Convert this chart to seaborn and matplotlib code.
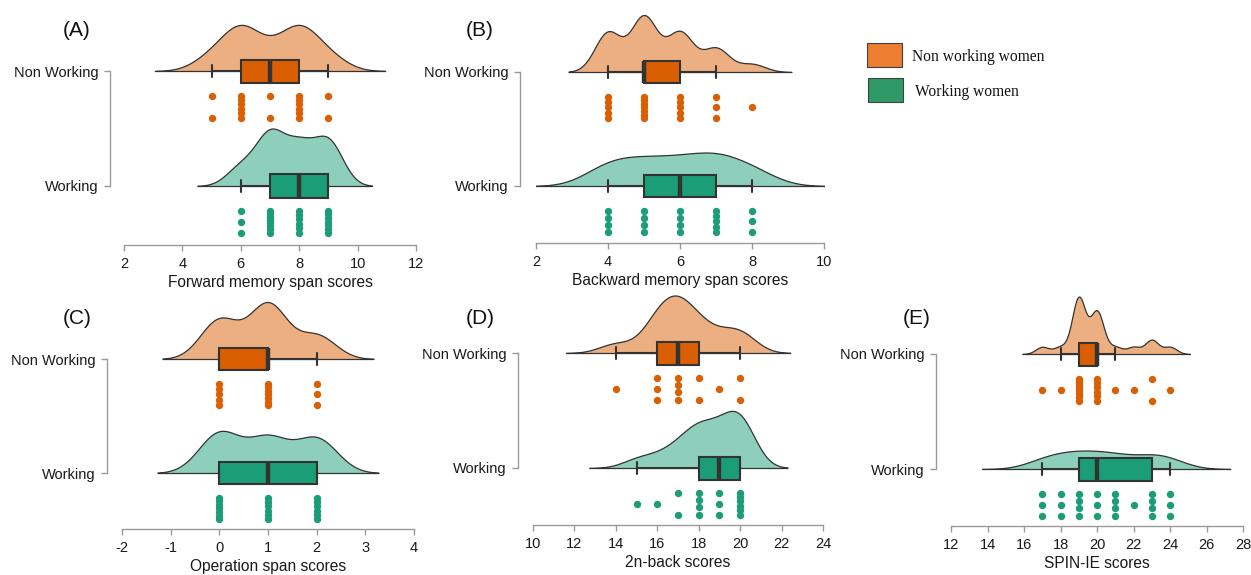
import numpy as np
import pandas as pd
import matplotlib
matplotlib.use("Agg")
import matplotlib.pyplot as plt
import seaborn as sns
from matplotlib.patches import Rectangle

# ---------------- data (value -> number of participants) ----------------
groups = ["Non Working", "Working"]

fwd_nw_values = [5, 6, 7, 8, 9]
fwd_nw_counts = [2, 6, 2, 6, 2]
fwd_w_values = [6, 7, 8, 9]
fwd_w_counts = [3, 8, 6, 7]

bwd_nw_values = [4, 5, 6, 7, 8]
bwd_nw_counts = [5, 7, 5, 3, 1]
bwd_w_values = [4, 5, 6, 7, 8]
bwd_w_counts = [4, 4, 4, 5, 3]

ops_nw_values = [0, 1, 2]
ops_nw_counts = [5, 7, 3]
ops_w_values = [0, 1, 2]
ops_w_counts = [7, 6, 6]

nback_nw_values = [14, 16, 17, 18, 19, 20]
nback_nw_counts = [1, 3, 4, 2, 1, 2]
nback_w_values = [15, 16, 17, 18, 19, 20]
nback_w_counts = [1, 1, 2, 4, 3, 6]

spin_nw_values = [17, 18, 19, 20, 21, 22, 23, 24]
spin_nw_counts = [1, 1, 8, 6, 1, 1, 2, 1]
spin_w_values = [17, 18, 19, 20, 21, 22, 23, 24]
spin_w_counts = [3, 3, 4, 3, 4, 1, 4, 3]

panel_letters = ["(A)", "(B)", "(C)", "(D)", "(E)"]
x_labels = ["Forward memory span scores", "Backward memory span scores",
            "Operation span scores", "2n-back scores", "SPIN-IE scores"]
x_ticks_A = [2, 4, 6, 8, 10, 12]
x_ticks_B = [2, 4, 6, 8, 10]
x_ticks_C = [-2, -1, 0, 1, 2, 3, 4]
x_ticks_D = [10, 12, 14, 16, 18, 20, 22, 24]
x_ticks_E = [12, 14, 16, 18, 20, 22, 24, 26, 28]
legend_labels = ["Non working women", "Working women"]

# ---------------- style ----------------
C_NW, C_W = "#D95F02", "#1B9E77"
C_NW_LIGHT, C_W_LIGHT = "#ECAF81", "#8DCFBB"
LINE = "#333333"
SPINE = "#9A9A9A"
LEG_NW, LEG_W = "#ED7D31", "#2F9968"

sns.set_style("ticks")
plt.rcParams["font.family"] = ["Liberation Sans", "DejaVu Sans"]

W_PX, H_PX = 1251, 575
fig = plt.figure(figsize=(W_PX / 100, H_PX / 100), dpi=100)

# layout in pixels: x-left, x-right, y(NonWorking), y(Working), y(x-spine), x(y-spine), letter position
layout = [
    dict(L=124, R=416, NW=71, W=186, S=245, YS=110, lx=77, ly=30),
    dict(L=536, R=824, NW=72, W=186, S=243, YS=520, lx=480, ly=30),
    dict(L=122, R=414, NW=359, W=473, S=529, YS=107, lx=77, ly=318),
    dict(L=533, R=823, NW=353, W=468, S=525, YS=518, lx=480, ly=318),
    dict(L=951, R=1243, NW=354, W=469, S=526, YS=936, lx=917, ly=318),
]

panels = [
    (fwd_nw_values, fwd_nw_counts, fwd_w_values, fwd_w_counts, x_ticks_A),
    (bwd_nw_values, bwd_nw_counts, bwd_w_values, bwd_w_counts, x_ticks_B),
    (ops_nw_values, ops_nw_counts, ops_w_values, ops_w_counts, x_ticks_C),
    (nback_nw_values, nback_nw_counts, nback_w_values, nback_w_counts, x_ticks_D),
    (spin_nw_values, spin_nw_counts, spin_w_values, spin_w_counts, x_ticks_E),
]


def nrd0(x):
    x = np.asarray(x, float)
    sd = x.std(ddof=1)
    q75, q25 = np.percentile(x, [75, 25])
    lo = min(sd, (q75 - q25) / 1.34)
    if lo <= 0:
        lo = sd if sd > 0 else 1.0
    return 0.9 * lo * len(x) ** -0.2


def kde(x, n=512, cut=3):
    x = np.asarray(x, float)
    bw = nrd0(x)
    grid = np.linspace(x.min() - cut * bw, x.max() + cut * bw, n)
    d = np.exp(-0.5 * ((grid[:, None] - x[None, :]) / bw) ** 2).sum(1)
    d /= len(x) * bw * np.sqrt(2 * np.pi)
    return grid, d


def column_offsets(vals, half=0.095):
    vals = np.asarray(vals)
    out = np.zeros(len(vals))
    for v in np.unique(vals):
        idx = np.where(vals == v)[0]
        if len(idx) > 1:
            out[idx] = np.linspace(-half, half, len(idx))
    return out


TOP_MARGIN = 63  # px above Non Working baseline
for k, (spec, lay) in enumerate(zip(panels, layout)):
    nw_v, nw_c, w_v, w_c, ticks = spec
    nw = np.repeat(nw_v, nw_c).astype(float)
    w = np.repeat(w_v, w_c).astype(float)
    unit = lay["W"] - lay["NW"]
    top_px = lay["NW"] - TOP_MARGIN
    rect = [lay["L"] / W_PX, 1 - lay["S"] / H_PX,
            (lay["R"] - lay["L"]) / W_PX, (lay["S"] - top_px) / H_PX]
    ax = fig.add_axes(rect)

    df = pd.DataFrame({"score": np.r_[nw, w],
                       "group": [groups[0]] * len(nw) + [groups[1]] * len(w)})
    sns.boxplot(data=df, x="score", y="group", order=groups, hue="group",
                hue_order=groups, palette=[C_NW, C_W], saturation=1, width=0.2,
                showfliers=False, linecolor=LINE, linewidth=1.5,
                medianprops={"linewidth": 3.2, "color": LINE},
                legend=False, ax=ax)

    # half-violin densities above each baseline
    dens = [kde(nw), kde(w)]
    scale = 0.5 / max(d.max() for _, d in dens)
    for i, ((g, d), light) in enumerate(zip(dens, [C_NW_LIGHT, C_W_LIGHT])):
        ax.fill_between(g, i, i - d * scale, facecolor=light, edgecolor=LINE,
                        linewidth=0.9, zorder=1)

    # raw points below each baseline
    for i, (vals, col) in enumerate(zip([nw, w], [C_NW, C_W])):
        ypos = i + 0.31 + column_offsets(vals)
        sns.scatterplot(x=vals, y=ypos, color=col, s=28, linewidth=0,
                        legend=False, ax=ax, zorder=3)

    ax.set_xlim(ticks[0], ticks[-1])
    ax.set_ylim(1 + (lay["S"] - lay["W"]) / unit, -TOP_MARGIN / unit)
    ax.set_xticks(ticks)
    ax.set_xticklabels([str(t) for t in ticks])
    ax.set_yticks([0, 1])
    ax.set_yticklabels(groups)
    ax.set_xlabel(x_labels[k], fontsize=11.2, color="#1a1a1a", labelpad=3)
    ax.set_ylabel("")
    ax.grid(False)
    for s in ["top", "right"]:
        ax.spines[s].set_visible(False)
    ax.spines["left"].set_position(("outward", (lay["L"] - lay["YS"]) * 0.72))
    ax.spines["left"].set_bounds(0, 1)
    ax.spines["bottom"].set_bounds(ticks[0], ticks[-1])
    for s in ["left", "bottom"]:
        ax.spines[s].set_color(SPINE)
        ax.spines[s].set_linewidth(1.0)
    ax.tick_params(axis="both", length=4.5, width=1, color=SPINE,
                   labelcolor="#1a1a1a", labelsize=10.5, pad=4)
    ax.patch.set_alpha(0)

    fig.text(lay["lx"] / W_PX, 1 - lay["ly"] / H_PX, panel_letters[k],
             ha="center", va="center", fontsize=15, color="#111111")

# legend (figure level)
for (x0, y0, x1, y1), col, lab, tx, ty in [
        ((867, 43, 902, 67), LEG_NW, legend_labels[0], 912, 57),
        ((868, 78, 903, 102), LEG_W, legend_labels[1], 915, 92)]:
    fig.patches.append(Rectangle((x0 / W_PX, 1 - y1 / H_PX), (x1 - x0) / W_PX,
                                 (y1 - y0) / H_PX, transform=fig.transFigure,
                                 facecolor=col, edgecolor="#404040", linewidth=0.8))
    fig.text(tx / W_PX, 1 - ty / H_PX, lab, ha="left", va="center",
             fontsize=11.2, family=["Liberation Serif", "DejaVu Serif"],
             color="#111111")

fig.savefig("out.png", dpi=100)
